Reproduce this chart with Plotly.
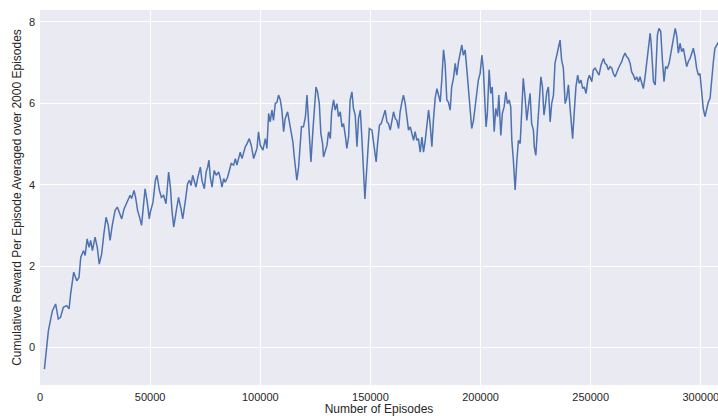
import plotly.graph_objects as go

# Episode index at which each 2000-episode running average is reported
episodes = [
    2000, 3800, 5600, 7100, 8300, 9300, 10600, 12100, 13200, 13900, 15300, 16700, 17700, 18500,
    19800, 20500, 21400, 22300, 23000, 23800, 25000, 26000, 26900, 28000, 28900, 30000, 31000,
    31800, 32800, 34100, 35100, 35900, 37100, 38200, 38900, 39800, 40900, 41600, 42700, 43400,
    44300, 45400, 46100, 46900, 47700, 48700, 49600,
    50100, 51300, 52400, 53100, 54200, 55100, 56100, 57200, 58400, 59200, 59900, 60700, 61900,
    62900, 64000, 64800, 66000, 67000, 67900, 68600, 69300, 70200, 70800, 71700, 72800, 73500,
    74600, 75400, 76100, 76700, 77300, 78100, 79100, 80000, 81100, 81900, 82600, 83400, 84100,
    85200, 86100, 86800, 87900, 88700, 89400, 90200, 90900, 91700, 92400, 93200, 94000, 95000,
    95900, 97000, 97700, 98500, 99200,
    100000, 101200, 102300, 103000, 103800, 104500, 105300, 106000, 106800, 107600, 108300,
    109100, 109800, 110600, 111300, 112400, 113300, 114100, 114800, 115600, 116200, 116600,
    117400, 118100, 118700, 119600, 120500, 121200, 121900, 123000, 123900, 124600, 125300,
    126000, 126800, 127500, 128300, 128700, 129500, 130300, 131000, 131800, 132400, 133300,
    134000, 134800, 135500, 136300, 137100, 137800, 138700, 139300, 140100, 140800, 141600,
    142300, 143100, 143900, 144600, 145400, 146100, 146900, 147500, 148100, 148700, 149500,
    150700, 151400, 152200, 152600, 153200, 154100, 154900, 155900, 156700, 157500, 158200,
    159000, 159800, 160500, 161300, 162000, 162800, 163500, 164300, 165000, 165800, 166600,
    167300, 168100, 168800, 169600, 170300, 171100, 171800, 172600, 173400, 174100, 174900,
    175600, 176400, 177100, 177900, 178600, 179400, 180200, 180900, 181700, 182400, 183200,
    183900, 184700, 185400, 186200, 186900, 187700, 188500, 189200, 190000, 190700, 191500,
    192200, 193000, 193800, 194500, 195300, 196000, 196800, 197500, 198300, 199000,
    199800, 200600, 201300, 202100, 202500, 203100, 203900, 204600, 205300, 206200, 206900,
    207700, 208300, 209200, 209900, 210700, 211500, 212200, 213000, 213700, 214200, 214900,
    215700, 216500, 217200, 218000, 218700, 219400, 220200, 221000, 221700, 222500, 223200,
    224000, 224400, 225100, 225800, 226600, 227400, 228100, 228800, 229500, 230100, 230800,
    231600, 232300, 233100, 233800, 234600, 235300, 236100, 236800, 237600, 238400, 239100,
    239900, 240600, 241400, 241800, 242600, 243300, 244100, 244800, 245600, 246400, 247100,
    247900, 248700, 249400,
    250500, 251200, 252000, 252800, 253800, 254700, 255800, 256500, 257300, 258000, 258800,
    259600, 260300, 261100, 261800, 262600, 263300, 264100, 264800, 265600, 266400, 267100,
    267900, 268600, 269400, 270200, 270900, 271700, 272400, 273200, 273900, 274700, 275500,
    276200, 277000, 277400, 277900, 278500, 279300, 279700, 280300, 281000, 281800, 282500,
    283300, 284000, 284800, 285600, 286300, 287100, 288000, 288400, 289100, 289800, 290600,
    291300, 292100, 292900, 293600, 294300, 295100, 295900, 296600, 297400, 298100, 298900,
    299600, 300400, 301100, 301900, 302700, 303400, 304200, 304900, 305700, 306400, 307200,
    308000,
]

# Cumulative reward per episode, averaged over the preceding 2000 episodes
avg_reward = [
    -0.53, 0.41, 0.90, 1.07, 0.70, 0.74, 0.99, 1.03, 0.95, 1.31, 1.85, 1.64, 1.72, 2.22,
    2.38, 2.26, 2.67, 2.46, 2.63, 2.38, 2.71, 2.46, 2.05, 2.30, 2.75, 3.20, 3.00,
    2.63, 3.00, 3.37, 3.45, 3.33, 3.16, 3.41, 3.49, 3.61, 3.74, 3.66, 3.86, 3.69,
    3.37, 3.16, 3.00, 3.45, 3.90, 3.57, 3.16,
    3.33, 3.57, 4.11, 4.23, 3.86, 3.69, 3.74, 3.53, 4.31, 3.94, 3.37, 2.96, 3.37,
    3.69, 3.41, 3.16, 3.61, 4.02, 4.11, 3.98, 4.23, 4.06, 3.94, 4.19, 4.43, 4.11,
    3.90, 4.31, 4.43, 4.60, 4.19, 3.94, 4.35, 4.23, 4.31, 4.15, 3.94, 4.15, 4.06,
    4.19, 4.35, 4.52, 4.48, 4.64, 4.48, 4.68, 4.80, 4.64, 4.80, 4.93, 5.01, 5.13,
    4.97, 4.64, 4.76, 4.89, 5.30,
    4.97, 4.85, 5.13, 4.89, 5.75, 5.54, 5.83, 5.58, 5.99, 6.03, 6.20,
    6.08, 5.83, 5.30, 5.62, 5.79, 5.50, 5.34, 5.05, 4.60, 4.35, 4.11,
    4.43, 4.93, 5.42, 5.42, 5.67, 6.20, 5.42, 4.56, 5.34, 5.95, 6.40,
    6.28, 5.99, 5.26, 5.01, 4.68, 4.80, 4.97, 5.30, 5.13, 5.79, 6.08,
    5.83, 5.99, 5.67, 5.79, 5.42, 5.50, 5.17, 4.89, 5.17, 6.08, 6.28,
    5.87, 5.71, 4.93, 5.62, 5.83, 5.17, 4.35, 3.65, 4.19, 4.76, 5.38,
    5.34, 5.01, 4.76, 4.56, 4.97, 5.46, 5.50, 5.67, 5.83, 5.54, 5.50,
    5.34, 5.62, 5.79, 5.62, 5.58, 5.38, 5.79, 6.03, 6.20, 5.99, 5.67,
    5.34, 5.42, 5.26, 5.09, 5.30, 5.09, 5.13, 4.80, 5.17, 4.80, 5.09,
    5.42, 5.83, 5.50, 4.93, 5.58, 6.12, 6.36, 6.20, 6.03, 6.57, 7.31,
    6.98, 6.08, 6.03, 5.83, 6.40, 6.61, 6.98, 6.69, 7.02, 7.23, 7.43,
    7.18, 7.31, 6.82, 6.32, 5.75, 5.38, 5.58, 5.91, 6.40, 6.57,
    6.73, 7.18, 6.82, 5.99, 5.42, 5.75, 6.82, 6.24, 6.40, 5.30, 5.87,
    5.67, 6.20, 5.21, 5.75, 5.91, 6.28, 5.99, 6.08, 5.91, 5.09, 4.60,
    3.87, 4.60, 5.09, 5.01, 5.87, 6.61, 6.16, 5.58, 5.91, 6.24, 5.50,
    5.34, 4.93, 4.72, 5.34, 6.16, 6.65, 6.40, 5.71, 5.99, 6.28, 6.40,
    5.54, 5.99, 6.20, 6.98, 7.23, 7.35, 7.55, 7.06, 6.86, 5.99, 6.12,
    6.45, 5.91, 5.34, 5.13, 5.83, 6.40, 6.69, 6.49, 6.57, 6.36, 6.40,
    6.24, 6.57, 6.69,
    6.53, 6.82, 6.86, 6.77, 6.69, 6.94, 7.10, 6.98, 6.94, 6.82, 6.90,
    6.86, 6.73, 6.65, 6.77, 6.86, 6.94, 7.02, 7.14, 7.23, 7.14, 7.10,
    6.98, 6.77, 6.69, 6.57, 6.65, 6.53, 6.65, 6.49, 6.36, 6.65, 7.02,
    7.39, 7.72, 7.51, 6.94, 6.53, 6.45, 6.94, 7.68, 7.84, 7.76, 7.10,
    6.53, 6.90, 6.86, 6.98, 7.23, 7.43, 7.72, 7.84, 7.64, 7.23, 7.47,
    7.27, 7.35, 7.10, 6.90, 7.02, 7.10, 7.23, 7.35, 7.14, 6.86, 6.69,
    6.73, 6.28, 5.87, 5.67, 5.87, 6.03, 6.12, 6.61, 7.02, 7.35, 7.43,
    7.50,
]

x_ticks = [0, 50000, 100000, 150000, 200000, 250000, 300000]
y_ticks = [0, 2, 4, 6, 8]

fig = go.Figure()
fig.add_trace(go.Scatter(
    x=episodes,
    y=avg_reward,
    mode="lines",
    line=dict(color="#4C72B0", width=1.5),
    hoverinfo="skip",
))

axis_common = dict(
    showgrid=True,
    gridcolor="white",
    gridwidth=1,
    zeroline=False,
    showline=False,
    ticks="",
    tickfont=dict(size=11, color="#262626"),
    ticklabeloverflow="allow",
)

fig.update_layout(
    width=718,
    height=416,
    margin=dict(l=40, r=0, t=10, b=31),
    paper_bgcolor="white",
    plot_bgcolor="#EAEAF2",
    showlegend=False,
    font=dict(family="Liberation Sans, Arial, sans-serif", size=12, color="#262626"),
    xaxis=dict(
        range=[0, 307800],
        tickvals=x_ticks,
        ticktext=[str(v) for v in x_ticks],
        ticklabelstandoff=4,
        title=dict(text="Number of Episodes", font=dict(size=12), standoff=6),
        **axis_common,
    ),
    yaxis=dict(
        range=[-0.92, 8.29],
        tickvals=y_ticks,
        ticktext=[str(v) for v in y_ticks],
        ticklabelstandoff=4,
        title=dict(text="Cumulative Reward Per Episode Averaged over 2000 Episodes",
                   font=dict(size=12), standoff=4),
        **axis_common,
    ),
)

fig.write_html("out.html")
